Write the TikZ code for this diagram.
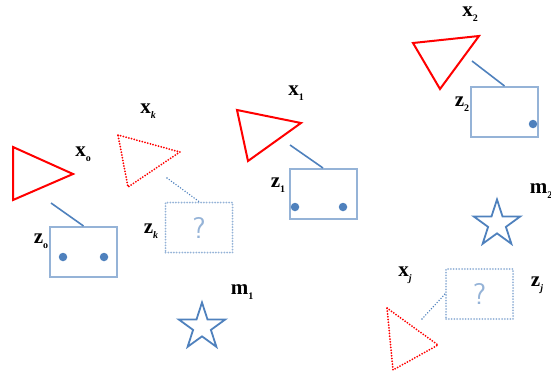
\documentclass[tikz,border=0pt]{standalone}
\usepackage{fontspec}
\usepackage{xcolor}
\setmainfont{Liberation Serif}
\usetikzlibrary{shapes.geometric}
\definecolor{trired}{RGB}{255,0,0}
\definecolor{boxblue}{RGB}{149,179,215}
\definecolor{linkblue}{RGB}{79,129,189}
% bold letter with a small lowered index
\newcommand{\lab}[2]{\textbf{#1}\raisebox{-5pt}{\fontsize{10}{10}\selectfont\textbf{#2}}}

\begin{document}
\begin{tikzpicture}[x=1pt,y=-1pt,
    lbl/.style={font=\fontsize{21}{24}\selectfont, inner sep=0pt},
    obs/.style={draw=trired, line width=2pt, line join=miter},
    missobs/.style={obs, line cap=round, dash pattern=on 0pt off 2.8pt},
    meas/.style={rectangle, draw=boxblue, line width=2pt, minimum width=67pt, minimum height=50pt, inner sep=0pt},
    missmeas/.style={meas, line cap=round, dash pattern=on 0pt off 2.8pt, text=boxblue, font=\fontsize{30}{34}\sffamily},
    link/.style={draw=linkblue, line width=1.6pt},
    misslink/.style={link, line cap=round, dash pattern=on 0pt off 2.8pt},
    featdot/.style={circle, fill=linkblue, inner sep=0pt, minimum size=8.5pt},
    landmark/.style={star, star points=5, star point ratio=2.618, draw=linkblue, line width=1.8pt, minimum size=49pt, inner sep=0pt}]
    \useasboundingbox (0,0) rectangle (551,380);

    % Triangles (poses)
    \draw[obs] (13,147) -- (73,174) -- (13,200) -- cycle;
    \draw[missobs] (118,135) -- (180,152) -- (128,187) -- cycle;
    \draw[obs] (237,110) -- (301,123) -- (248,161) -- cycle;
    \draw[obs] (413,43) -- (479,36) -- (440,89) -- cycle;
    \draw[missobs] (387,308) -- (438,345) -- (393,370) -- cycle;

    % Measurement boxes
    \node[meas] (z0) at (83.5,252) {};
    \node[meas] (z1) at (323,194) {};
    \node[meas] (z2) at (504.5,112) {};
    \node[missmeas] (zk) at (199,227.5) {?};
    \node[missmeas] (zj) at (479.5,294) {?};

    % Features seen in the boxes
    \node[featdot] (d01) at (63,257) {};
    \node[featdot] (d02) at (104,257) {};
    \node[featdot] (d11) at (295,207) {};
    \node[featdot] (d12) at (343,207) {};
    \node[featdot] (d21) at (533,124) {};

    % Links pose -> measurement
    \coordinate (c0) at (51,203);
    \coordinate (ck) at (167,178);
    \coordinate (c1) at (290,145);
    \coordinate (c2) at (472,61);
    \coordinate (cj) at (422,319);
    \draw[link] (c0) -- (z0.north);
    \draw[misslink] (ck) -- (zk.north);
    \draw[link] (c1) -- (z1.north);
    \draw[link] (c2) -- (z2.north);
    \draw[misslink] (cj) -- (zj.west);

    % Landmarks
    \node[landmark] (m1) at (202,327) {};
    \node[landmark] (m2) at (497,224) {};

    % Labels
    \node[lbl] (lx0) at (83,154) {\lab{x}{o}};
    \node[lbl] (lxk) at (148,111) {\lab{x}{\textit{k}}};
    \node[lbl] (lx1) at (296,93) {\lab{x}{1}};
    \node[lbl] (lx2) at (470,14) {\lab{x}{2}};
    \node[lbl] (lxj) at (405,275) {\lab{x}{\textit{j}}};
    \node[lbl] (lz0) at (41,241) {\lab{z}{o}};
    \node[lbl] (lzk) at (151,231) {\lab{z}{\textit{k}}};
    \node[lbl] (lz1) at (278,185) {\lab{z}{1}};
    \node[lbl] (lz2) at (462,104) {\lab{z}{2}};
    \node[lbl] (lzj) at (537,285) {\lab{z}{\textit{j}}};
    \node[lbl] (lm1) at (242,292) {\lab{m}{1}};
    \node[lbl] (lm2) at (541,191) {\lab{m}{2}};
\end{tikzpicture}
\end{document}
